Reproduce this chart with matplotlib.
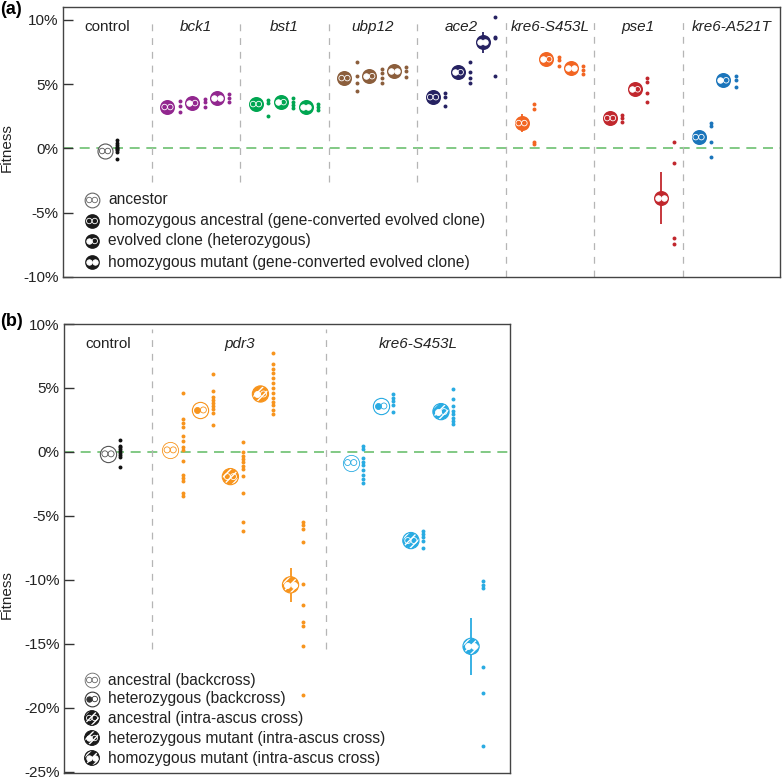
import numpy as np
import matplotlib
matplotlib.use("Agg")
import matplotlib.pyplot as plt
from matplotlib import transforms as mtrans

plt.rcParams['font.family'] = ['Liberation Sans', 'DejaVu Sans']
plt.rcParams['hatch.linewidth'] = 1.0

# ---------------- Panel (a) data ----------------
a_groups = ["control", "bck1", "bst1", "ubp12", "ace2", "kre6-S453L", "pse1", "kre6-A521T"]
a_colors = ["#555555", "#92278f", "#00a651", "#8b5e3c", "#262262", "#f26522", "#c1272d", "#1b75bb"]
a_group_idx = [0, 1, 1, 1, 2, 2, 2, 3, 3, 3, 4, 4, 4, 5, 5, 5, 6, 6, 6, 7, 7]
a_slot = [1.05, 0, 1, 2, 0, 1, 2, 0, 1, 2, 0, 1, 2, 0, 1, 2, 0, 1, 2.07, 0, 1]
a_kind = ["anc",
          "homanc", "het", "hommut",
          "homanc", "het", "hommut",
          "homanc", "het", "hommut",
          "homanc", "het", "hommut",
          "homanc", "het", "hommut",
          "homanc", "het", "hommut",
          "homanc", "het"]
a_mean = [-0.2,
          3.22, 3.53, 3.91,
          3.45, 3.60, 3.22,
          5.47, 5.62, 6.00,
          3.99, 5.93, 8.26,
          1.97, 6.94, 6.24,
          2.36, 4.60, -3.84,
          0.88, 5.30]
a_err = [0.15,
         0.3, 0.3, 0.3,
         0.3, 0.3, 0.3,
         0.4, 0.3, 0.3,
         0.4, 0.4, 0.83,
         0.72, 0.3, 0.3,
         0.3, 0.4, 2.02,
         0.5, 0.3]
a_reps = [[0.65, 0.45, 0.3, 0.15, 0.05, -0.05, -0.15, -0.3, -0.8],
          [3.68, 3.29, 2.83], [3.84, 3.60, 3.22], [4.22, 3.91, 3.60],
          [3.76, 3.55, 2.55], [3.90, 3.60, 3.37, 3.14], [3.45, 3.22, 2.98],
          [6.70, 5.62, 5.08, 4.46], [6.16, 5.85, 5.47, 5.08], [6.30, 6.00, 5.54],
          [4.30, 3.99, 3.29], [6.70, 5.95, 5.50, 5.10], [10.2, 8.70, 8.57, 5.62],
          [3.45, 3.06, 0.50, 0.35], [7.15, 6.85, 6.45], [6.45, 6.10, 5.80],
          [2.60, 2.36, 2.05], [5.50, 5.20, 4.30, 3.60], [0.50, -1.12, -6.94, -7.40],
          [1.97, 1.74, 0.50, -0.66], [5.62, 5.31, 4.79]]
a_ticks = [-10, -5, 0, 5, 10]
a_ticklabels = ["-10%", "-5%", "0%", "5%", "10%"]
a_legend_kinds = ["anc", "homanc", "het", "hommut"]
a_legend_labels = ["ancestor",
                   "homozygous ancestral (gene-converted evolved clone)",
                   "evolved clone (heterozygous)",
                   "homozygous mutant (gene-converted evolved clone)"]

# ---------------- Panel (b) data ----------------
b_groups = ["control", "pdr3", "kre6-S453L"]
b_colors = ["#555555", "#f7941d", "#29abe2"]
b_group_idx = [0, 1, 1, 1, 1, 1, 2, 2, 2, 2, 2]
b_slot = [0, 0, 1, 2, 3, 4, 0, 1, 2, 3, 4]
b_kind = ["anc",
          "anc_bc", "het_bc", "anc_ia", "het_ia", "hom_ia",
          "anc_bc", "het_bc", "anc_ia", "het_ia", "hom_ia"]
b_mean = [-0.15,
          0.16, 3.28, -1.93, 4.53, -10.39,
          -0.83, 3.59, -6.93, 3.15, -15.2]
b_err = [0.15,
         0.4, 0.4, 0.5, 0.4, 1.35,
         0.4, 0.3, 0.3, 0.4, 2.2]
b_reps = [[0.94, 0.5, 0.35, 0.2, 0.05, -0.1, -0.25, -0.4, -1.15],
          [4.6, 2.55, 2.29, 1.98, 1.22, 0.87, 0.35, 0.16, -0.73, -1.77, -2.02, -2.25, -3.23, -3.41],
          [6.08, 4.75, 4.33, 4.07, 3.84, 3.58, 3.32, 3.06, 2.08],
          [0.76, 0.03, -0.29, -0.55, -0.8, -1.07, -1.33, -1.85, -3.23, -5.44, -6.17],
          [7.71, 6.85, 6.48, 6.15, 5.76, 5.37, 4.98, 4.58, 4.19, 3.93, 3.67, 3.28, 2.97],
          [-5.44, -5.7, -6.04, -7.05, -10.31, -11.95, -13.3, -13.6, -15.2, -19.04],
          [0.49, 0.23, -0.49, -0.76, -1.02, -1.41, -1.8, -2.11, -2.4],
          [4.5, 4.24, 3.98, 3.67, 3.15],
          [-6.17, -6.43, -6.69, -6.95, -7.53],
          [4.9, 4.12, 3.59, 3.2, 2.94, 2.68, 2.42, 2.16],
          [-10.1, -10.4, -10.65, -16.8, -18.85, -23.0]]
b_ticks = [-25, -20, -15, -10, -5, 0, 5, 10]
b_ticklabels = ["-25%", "-20%", "-15%", "-10%", "-5%", "0%", "5%", "10%"]
b_legend_kinds = ["anc_bc", "het_bc", "anc_ia", "het_ia", "hom_ia"]
b_legend_labels = ["ancestral (backcross)",
                   "heterozygous (backcross)",
                   "ancestral (intra-ascus cross)",
                   "heterozygous mutant (intra-ascus cross)",
                   "homozygous mutant (intra-ascus cross)"]

# ---------------- figure ----------------
W, H = 783, 779
fig = plt.figure(figsize=(W / 100, H / 100), dpi=100)
axA = fig.add_axes([63 / W, 1 - 277 / H, 717 / W, 270 / H])
axB = fig.add_axes([64 / W, 1 - 773 / H, 446 / W, 449 / H])

FS = 11
LFS = 11.2
FRAME = "#444444"


def draw_marker(ax, x, y, kind, color, diam, trans, z=5):
    open_face = kind in ("anc", "anc_bc", "het_bc")
    hatched = kind.endswith("_ia")
    if open_face:
        lw = 0.6 if kind == "anc_bc" else 0.8
        ax.scatter([x], [y], s=diam ** 2, marker="o", facecolor="white",
                   edgecolor=color, linewidths=lw, transform=trans, zorder=z)
        inner = color
    elif hatched:
        ax.scatter([x], [y], s=diam ** 2, marker="o", facecolor=color,
                   edgecolor="white", linewidths=0, hatch="////",
                   transform=trans, zorder=z)
        ax.scatter([x], [y], s=diam ** 2, marker="o", facecolor="none",
                   edgecolor=color, linewidths=0.8, transform=trans, zorder=z + 0.05)
        inner = "white"
    else:
        ax.scatter([x], [y], s=diam ** 2, marker="o", facecolor=color,
                   edgecolor=color, linewidths=0, transform=trans, zorder=z)
        inner = "white"
    d_in = diam * 0.37
    off = diam * 0.19
    left_f = kind in ("het", "hommut", "het_bc", "het_ia", "hom_ia")
    right_f = kind in ("hommut", "hom_ia")
    for dx, filled in ((-off, left_f), (off, right_f)):
        t = mtrans.offset_copy(trans, fig=fig, x=dx, y=0, units="points")
        ax.scatter([x], [y], s=d_in ** 2, marker="o",
                   facecolor=inner if filled else "none",
                   edgecolor=inner, linewidths=0.6, transform=t, zorder=z + 0.1)


def style_axis(ax, ticks, labels, ylim, xlim):
    ax.set_xlim(*xlim)
    ax.set_ylim(*ylim)
    ax.set_xticks([])
    ax.set_yticks(ticks)
    ax.set_yticklabels(labels, fontsize=FS)
    ax.tick_params(axis="y", direction="in", length=7, width=1.0,
                   color="#333333", pad=3, labelcolor="#222222")
    for sp in ax.spines.values():
        sp.set_color(FRAME)
        sp.set_linewidth(1.0)


# ----- panel (a) -----
A_START, A_STEP, DOT_OFF = 0.18, 0.28, 0.14
style_axis(axA, a_ticks, a_ticklabels, (-10, 11), (0, 8.1))
axA.axhline(0, color="#6cc070", lw=1.2, ls=(0, (6, 4)), zorder=1)
for i in range(1, len(a_groups)):
    bottom = -2.6 if i <= 4 else -10
    axA.vlines(i, bottom, 10, color="#b5b5b5", lw=0.9, ls=(0, (5.5, 5.5)), zorder=1)
bounds_a = list(range(len(a_groups))) + [8.1]
for gi, name in enumerate(a_groups):
    cx = (bounds_a[gi] + bounds_a[gi + 1]) / 2
    axA.text(cx, 9.45, name, ha="center", va="center", fontsize=FS,
             style="normal" if gi == 0 else "italic", color="#222222")
for g, sl, k, m, e, reps in zip(a_group_idx, a_slot, a_kind, a_mean, a_err, a_reps):
    x = g + A_START + A_STEP * sl
    col = a_colors[g]
    axA.vlines(x, m - e, m + e, color=col, lw=1.3, zorder=4)
    draw_marker(axA, x, m, k, col, 10.8, axA.transData)
    dcol = "#111111" if g == 0 else col
    axA.scatter(np.full(len(reps), x + DOT_OFF), reps, s=8, color=dcol,
                linewidths=0, zorder=6)
axA.set_ylabel("Fitness", fontsize=FS, color="#222222")
axA.yaxis.set_label_coords((14 - 63) / 717, (277 - 148) / 270)

leg_y_a = [(277 - py) / 270 for py in (200, 221, 241, 262)]
for k, lab, yy in zip(a_legend_kinds, a_legend_labels, leg_y_a):
    col = "#666666" if k == "anc" else "#1a1a1a"
    draw_marker(axA, (92 - 63) / 717, yy, k, col, 10.6, axA.transAxes, z=7)
    axA.text((108 - 63) / 717, yy, lab, transform=axA.transAxes, fontsize=LFS,
             va="center", ha="left", color="#222222")

# ----- panel (b) -----
b_bounds = [0, 1, 2.96, 5.04]
b_first = [0.497, 0.2, 0.28]
B_STEP = 0.34
style_axis(axB, b_ticks, b_ticklabels, (-25.1, 10), (0, 5.04))
axB.axhline(0, color="#6cc070", lw=1.2, ls=(0, (6, 4)), zorder=1)
for xs in b_bounds[1:-1]:
    axB.vlines(xs, -15.4, 9.6, color="#b5b5b5", lw=0.9, ls=(0, (5.5, 5.5)), zorder=1)
for gi, name in enumerate(b_groups):
    cx = (b_bounds[gi] + b_bounds[gi + 1]) / 2
    axB.text(cx, 8.4, name, ha="center", va="center", fontsize=FS,
             style="normal" if gi == 0 else "italic", color="#222222")
for g, sl, k, m, e, reps in zip(b_group_idx, b_slot, b_kind, b_mean, b_err, b_reps):
    x = b_bounds[g] + b_first[g] + B_STEP * sl if g > 0 else b_first[0]
    col = b_colors[g]
    axB.vlines(x, m - e, m + e, color=col, lw=1.3, zorder=4)
    draw_marker(axB, x, m, k, col, 11.7, axB.transData)
    dcol = "#111111" if g == 0 else col
    axB.scatter(np.full(len(reps), x + DOT_OFF), reps, s=8, color=dcol,
                linewidths=0, zorder=6)
axB.set_ylabel("Fitness", fontsize=FS, color="#222222")
axB.yaxis.set_label_coords((14 - 64) / 446, (773 - 595) / 449)

leg_y_b = [(773 - py) / 449 for py in (680, 699, 718, 738, 758)]
for k, lab, yy in zip(b_legend_kinds, b_legend_labels, leg_y_b):
    col = "#666666" if k == "anc_bc" else ("#333333" if k == "het_bc" else "#1a1a1a")
    draw_marker(axB, (92 - 64) / 446, yy, k, col, 10.6, axB.transAxes, z=7)
    axB.text((108 - 64) / 446, yy, lab, transform=axB.transAxes, fontsize=LFS,
             va="center", ha="left", color="#222222")

fig.text(0.0, 1 - 10 / H, "(a)", fontsize=13, fontweight="bold", va="center", ha="left")
fig.text(0.0, 1 - 322 / H, "(b)", fontsize=13, fontweight="bold", va="center", ha="left")

fig.savefig("out.png", dpi=100)
